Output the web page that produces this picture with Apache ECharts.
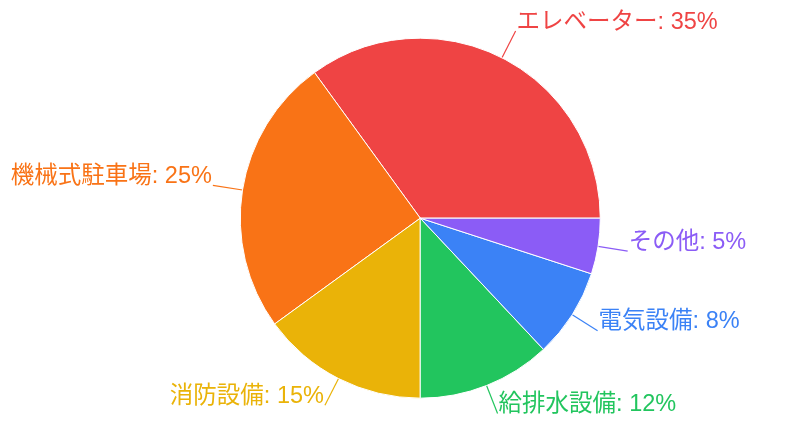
<!DOCTYPE html>
<html><head><meta charset="utf-8">
<script src="https://cdn.jsdelivr.net/npm/echarts@6/dist/echarts.min.js"></script>
<style>html,body{margin:0;padding:0;background:#fff}#c{width:799px;height:439px}</style>
</head><body><div id="c"></div>
<script>
const categories = ['エレベーター','機械式駐車場','消防設備','給排水設備','電気設備','その他'];
const values = [35,25,15,12,8,5];
const colors = ['#ef4444','#f97316','#eab308','#22c55e','#3b82f6','#8b5cf6'];
const chart = echarts.init(document.getElementById('c'));
chart.setOption({
  animation:false,
  series:[{
    type:'pie',
    center:['52.6%','49.7%'],
    radius:180,
    startAngle:0,
    clockwise:false,
    data:categories.map((n,i)=>({name:n,value:values[i],itemStyle:{color:colors[i]},label:{color:colors[i]}})),
    itemStyle:{borderColor:'#fff',borderWidth:1},
    label:{formatter:'{t|{b}: {c}%}\n{g|}',distanceToLabelLine:1,
      rich:{t:{fontSize:23.5,lineHeight:24,fontFamily:'"Liberation Sans", "Noto Sans CJK JP", sans-serif'},g:{height:18,lineHeight:18}}},
    labelLine:{length:30,length2:0,lineStyle:{width:1.2}}
  }]
});
</script></body></html>
